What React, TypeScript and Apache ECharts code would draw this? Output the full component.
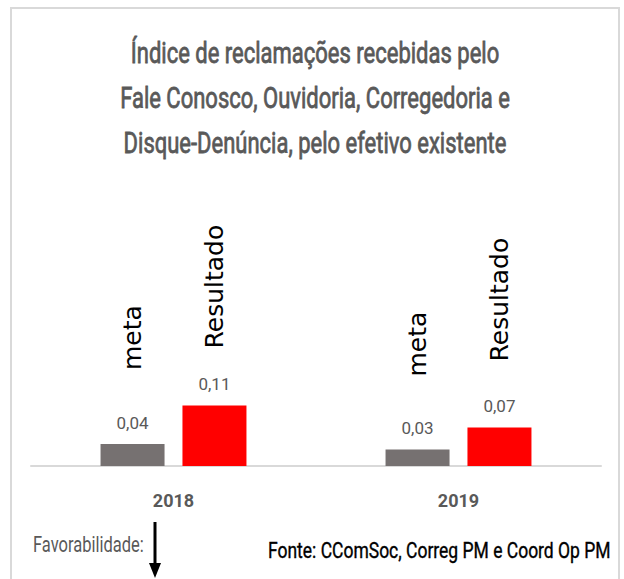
import React, { useEffect, useRef } from "react";
import * as echarts from "echarts";

const categories = ["2018", "2019"];
const metaValues = [0.04, 0.03];
const resultadoValues = [0.11, 0.07];
const seriesNames = ["meta", "Resultado"];
const titleLines = [
  "Índice de reclamações recebidas pelo",
  "Fale Conosco, Ouvidoria, Corregedoria e",
  "Disque-Denúncia, pelo efetivo existente",
];
const footerLeft = "Favorabilidade:";
const footerSource = "Fonte: CComSoc, Correg PM e Coord Op PM";

// style constants (label lift above each bar, per category)
const metaNameLift = [80, 79];
const resNameLift = [63, 72];

const NARROW = 'Roboto, "Liberation Sans", sans-serif';
const WIDE = '"DejaVu Sans", "Liberation Sans", sans-serif';
const GREY_TEXT = "#595959";

const fmt = (p: any) => String(p.value).replace(".", ",");

export default function App() {
  const ref = useRef<HTMLDivElement>(null);
  useEffect(() => {
    if (!ref.current) return;
    const chart = echarts.init(ref.current, undefined, { renderer: "svg" });
    const valueLabel = {
      show: true,
      position: "top",
      distance: 13,
      formatter: fmt,
      fontFamily: NARROW,
      fontSize: 17,
      color: GREY_TEXT,
    };
    const nameLabel = (name: string) => ({
      show: true,
      position: "top",
      rotate: 90,
      align: "left",
      verticalAlign: "middle",
      offset: [-6, 0],
      formatter: () => name,
      fontFamily: WIDE,
      fontSize: 25,
      color: "#000000",
    });
    const titleGraphics = titleLines.map((t, i) => ({
      type: "text",
      x: 315,
      y: 53 + 45 * i,
      scaleY: 1.32,
      style: {
        text: t,
        fontFamily: NARROW,
        fontSize: 22,
        fill: GREY_TEXT,
        stroke: GREY_TEXT,
        lineWidth: 0.6,
        align: "center",
        verticalAlign: "middle",
      },
    }));
    chart.setOption({
      animation: false,
      backgroundColor: "#ffffff",
      grid: { left: 31, right: 23, top: 356, bottom: 113 },
      xAxis: {
        type: "category",
        data: categories,
        axisLine: { lineStyle: { color: "#d9d9d9", width: 2 } },
        axisTick: { show: false },
        axisLabel: {
          margin: 25,
          fontFamily: NARROW,
          fontSize: 18,
          fontWeight: "bold",
          color: GREY_TEXT,
        },
      },
      yAxis: { type: "value", min: 0, max: 0.2, show: false, splitLine: { show: false } },
      series: [
        {
          name: seriesNames[0],
          type: "bar",
          stack: "meta",
          barWidth: 64,
          barGap: "28%",
          data: metaValues,
          itemStyle: { color: "#767171" },
          label: valueLabel,
        },
        {
          name: seriesNames[0] + "-label",
          type: "bar",
          stack: "meta",
          barWidth: 64,
          barGap: "28%",
          data: metaValues.map((_, i) => ({ value: 0, label: { distance: metaNameLift[i] } })),
          itemStyle: { color: "transparent" },
          label: nameLabel(seriesNames[0]),
        },
        {
          name: seriesNames[1],
          type: "bar",
          stack: "res",
          barWidth: 64,
          barGap: "28%",
          data: resultadoValues,
          itemStyle: { color: "#ff0000" },
          label: valueLabel,
        },
        {
          name: seriesNames[1] + "-label",
          type: "bar",
          stack: "res",
          barWidth: 64,
          barGap: "28%",
          data: resultadoValues.map((_, i) => ({ value: 0, label: { distance: resNameLift[i] } })),
          itemStyle: { color: "transparent" },
          label: nameLabel(seriesNames[1]),
        },
      ],
      graphic: [
        {
          type: "rect",
          shape: { x: 11, y: 8, width: 608, height: 620 },
          style: { fill: "none", stroke: "#d9d9d9", lineWidth: 2 },
          silent: true,
        },
        ...titleGraphics,
        {
          type: "text",
          x: 33,
          y: 545,
          scaleY: 1.3,
          style: {
            text: footerLeft,
            fontFamily: NARROW,
            fontSize: 16.5,
            fill: GREY_TEXT,
            verticalAlign: "middle",
            align: "left",
          },
        },
        {
          type: "line",
          shape: { x1: 155, y1: 522, x2: 155, y2: 566 },
          style: { stroke: "#000000", lineWidth: 3 },
        },
        {
          type: "polygon",
          shape: { points: [[149, 563], [161, 563], [155, 578]] },
          style: { fill: "#000000" },
        },
        {
          type: "text",
          x: 268,
          y: 550,
          scaleY: 1.3,
          style: {
            text: footerSource,
            fontFamily: NARROW,
            fontSize: 17.5,
            fill: "#000000",
            stroke: "#000000",
            lineWidth: 0.3,
            verticalAlign: "middle",
            align: "left",
          },
        },
      ],
    });
    return () => chart.dispose();
  }, []);
  return (
    <div
      ref={ref}
      style={{ position: "fixed", left: 0, top: 0, width: 624, height: 579 }}
    />
  );
}
